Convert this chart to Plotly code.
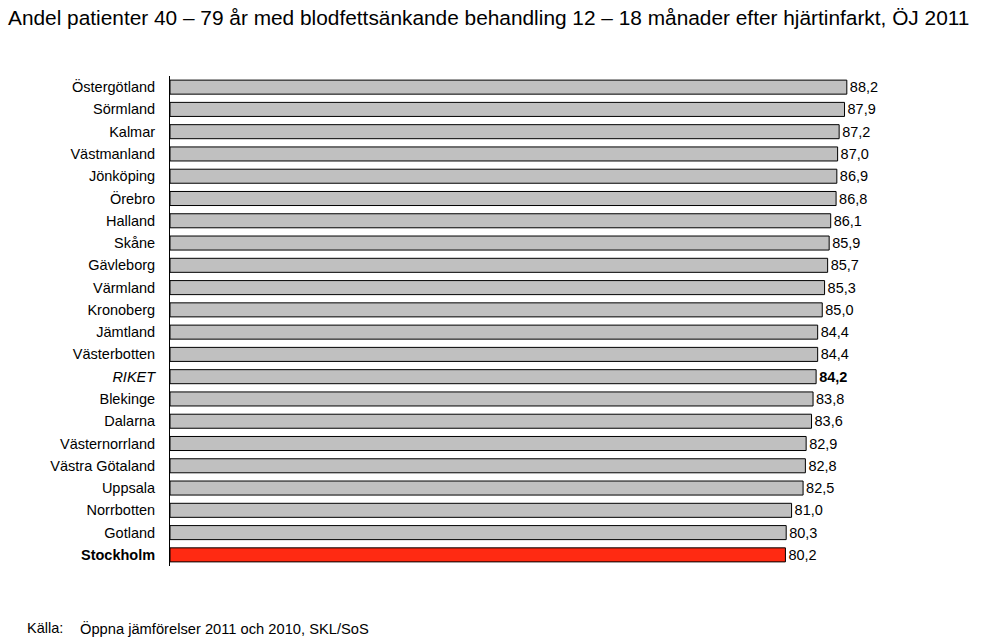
import plotly.graph_objects as go

regions = ["Östergötland", "Sörmland", "Kalmar", "Västmanland", "Jönköping", "Örebro",
           "Halland", "Skåne", "Gävleborg", "Värmland", "Kronoberg", "Jämtland",
           "Västerbotten", "RIKET", "Blekinge", "Dalarna", "Västernorrland",
           "Västra Götaland", "Uppsala", "Norrbotten", "Gotland", "Stockholm"]
values = [88.2, 87.9, 87.2, 87.0, 86.9, 86.8, 86.1, 85.9, 85.7, 85.3, 85.0, 84.4,
          84.4, 84.2, 83.8, 83.6, 82.9, 82.8, 82.5, 81.0, 80.3, 80.2]

title = "Andel patienter 40 – 79 år med blodfettsänkande behandling 12 – 18 månader efter hjärtinfarkt, ÖJ 2011"
source_label = "Källa:"
source_text = "Öppna jämförelser 2011 och 2010, SKL/SoS"

def tick_label(r):
    if r == "RIKET":
        return "<i>RIKET</i>"
    if r == "Stockholm":
        return "<b>Stockholm</b>"
    return r

def val_label(r, v):
    s = f"{v:.1f}".replace(".", ",")
    return f"<b>{s}</b>" if r == "RIKET" else s

colors = ["#FF2A12" if r == "Stockholm" else "#C0C0C0" for r in regions]

W, H = 1008, 638
ML, MR, MT, MB = 170, 109, 76, 72

fig = go.Figure(go.Bar(
    y=regions, x=values, orientation="h",
    marker=dict(color=colors, line=dict(color="black", width=1)),
    width=0.63,
    text=[val_label(r, v) for r, v in zip(regions, values)],
    textposition="outside",
    constraintext="none",
    textfont=dict(family="Liberation Sans, Arial", size=14.5, color="black"),
    cliponaxis=False,
    hoverinfo="skip",
))

pw = W - ML - MR
ph = H - MT - MB

def px2paper(x, y):
    return (x - ML) / pw, 1 - (y - MT) / ph

ann = []
for txt, x, y, size in [(title, 6, 17, 20.85), (source_label, 25, 628, 14.5), (source_text, 78, 628, 14.7)]:
    ax, ay = px2paper(x, y)
    ann.append(dict(text=txt, x=ax, y=ay, xref="paper", yref="paper", showarrow=False,
                    xanchor="left", yanchor="middle", font=dict(size=size, color="black")))

fig.update_layout(
    width=W, height=H,
    margin=dict(l=ML, r=MR, t=MT, b=MB),
    paper_bgcolor="white", plot_bgcolor="white",
    showlegend=False,
    font=dict(family="Liberation Sans, Arial", color="black"),
    xaxis=dict(range=[0, 95], visible=False, fixedrange=True),
    yaxis=dict(
        categoryorder="array", categoryarray=regions[::-1],
        tickmode="array", tickvals=regions, ticktext=[tick_label(r) for r in regions],
        showline=True, linecolor="black", linewidth=1,
        ticks="", ticklen=0, tickfont=dict(size=14.5, color="black"),
        ticklabelstandoff=11,
        showgrid=False, zeroline=False, fixedrange=True,
    ),
    annotations=ann,
)

fig.write_html("out.html", config={"displayModeBar": False},
               post_script="document.body.style.margin='0';")
